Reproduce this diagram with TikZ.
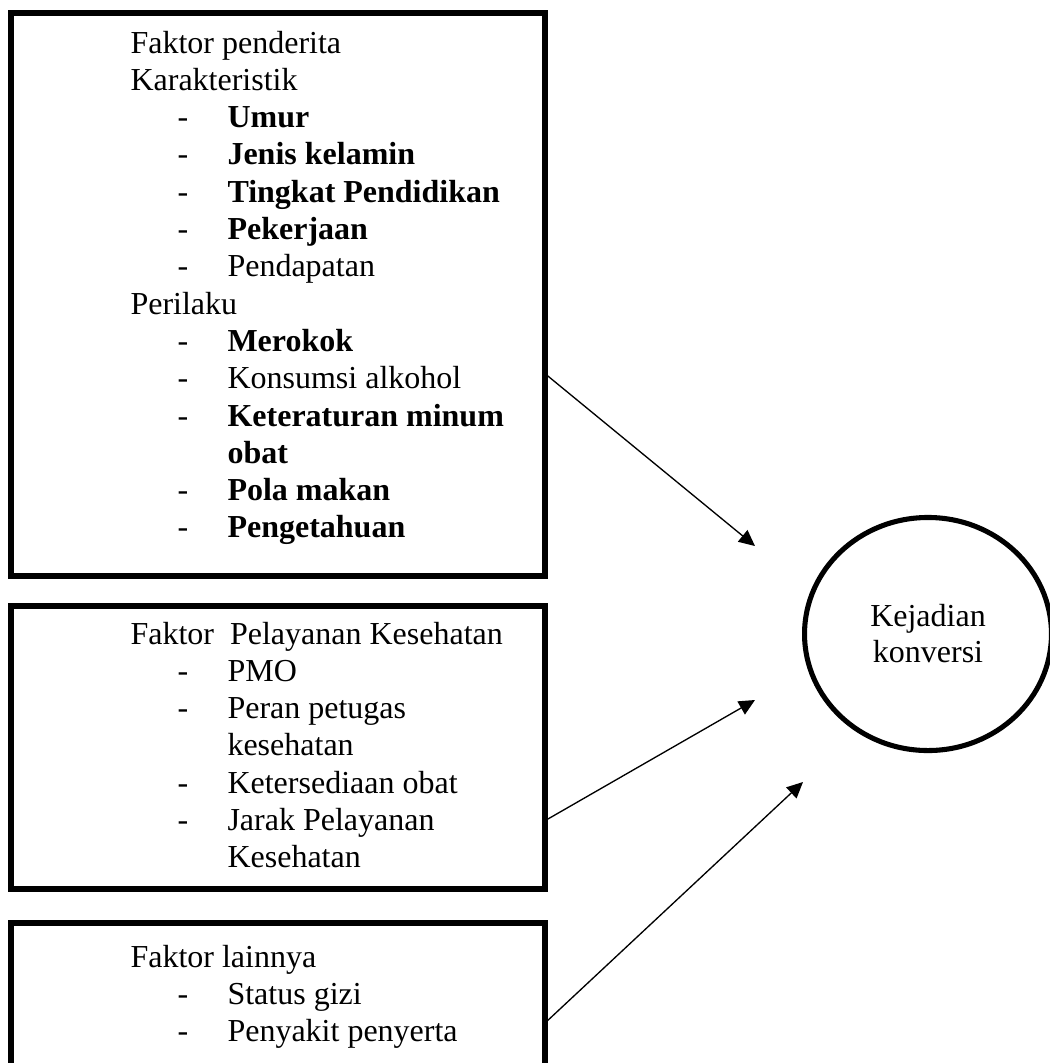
\documentclass[tikz,border=0pt]{standalone}
\usepackage{fontspec}
\setmainfont{Liberation Serif}
\usetikzlibrary{shapes, arrows.meta, positioning, fit, calc}

\begin{document}
\begin{tikzpicture}[x=0.375pt, y=-0.375pt,
    kotak/.style={draw, line width=1.9pt, inner sep=0pt},
    bulat/.style={draw, ellipse, line width=1.9pt, inner sep=0pt, align=center,
        font=\fontsize{12}{13.5}\selectfont},
    teks/.style={anchor=base west, inner sep=0pt, font=\fontsize{12}{14}\selectfont},
    tebal/.style={teks, font=\fontsize{12}{14}\selectfont\bfseries},
    panah/.style={-{Triangle[length=6pt, width=5.6pt]}, line width=0.5pt}]

    \useasboundingbox (0,0) rectangle (1050,1063);

    % Faktor penderita
    \node[kotak, fit={(11,13) (545,576)}] (box1) {};
    \node[teks] (fp) at (130,53) {Faktor penderita};
    \node[teks] (kar) at (130,90.3) {Karakteristik};
    \node[tebal] (umur) at (227,127.6) {Umur};
    \node[tebal] (jk) at (227,164.9) {Jenis kelamin};
    \node[tebal] (pend) at (227,202.2) {Tingkat Pendidikan};
    \node[tebal] (kerja) at (227,239.5) {Pekerjaan};
    \node[teks] (dapat) at (227,276.8) {Pendapatan};
    \node[teks] (per) at (130,314.1) {Perilaku};
    \node[tebal] (rokok) at (227,351.4) {Merokok};
    \node[teks] (alk) at (227,388.7) {Konsumsi alkohol};
    \node[tebal] (atur) at (227,426.0) {Keteraturan minum};
    \node[tebal] (obat) at (227,463.3) {obat};
    \node[tebal] (pola) at (227,500.6) {Pola makan};
    \node[tebal] (tahu) at (227,537.9) {Pengetahuan};

    % Faktor pelayanan kesehatan
    \node[kotak, fit={(11,606) (545,889)}] (box2) {};
    \node[teks] (fpk) at (130,644) {Faktor\ \ Pelayanan Kesehatan};
    \node[teks] (pmo) at (227,681.3) {PMO};
    \node[teks] (peran) at (227,718.6) {Peran petugas};
    \node[teks] (kes) at (227,755.9) {kesehatan};
    \node[teks] (sedia) at (227,793.2) {Ketersediaan obat};
    \node[teks] (jarak) at (227,830.5) {Jarak Pelayanan};
    \node[teks] (kes2) at (227,867.8) {Kesehatan};

    % Faktor lainnya
    \node[kotak, fit={(11,923) (545,1080)}] (box3) {};
    \node[teks] (fl) at (130,967) {Faktor lainnya};
    \node[teks] (gizi) at (227,1004.3) {Status gizi};
    \node[teks] (sakit) at (227,1041.6) {Penyakit penyerta};

    % strip
    \foreach \y [count=\n] in {127.6,164.9,202.2,239.5,276.8,351.4,388.7,426.0,500.6,537.9,
        681.3,718.6,793.2,830.5,1004.3,1041.6}
        \node[teks] (s\n) at (177,\y) {-};

    % Kejadian konversi
    \node[bulat, minimum width=92.6pt, minimum height=87.4pt] (konv) at (928,634) {Kejadian\\konversi};

    % panah
    \coordinate (u1) at (755,546);
    \coordinate (u2) at (755,700);
    \coordinate (u3) at (803,782);
    \draw[panah] ($(box1.north east)!0.643!(box1.south east)$) -- (u1);
    \draw[panah] ($(box2.north east)!0.749!(box2.south east)$) -- (u2);
    \draw[panah] ($(box3.north east)!0.618!(box3.south east)$) -- (u3);

\end{tikzpicture}
\end{document}
